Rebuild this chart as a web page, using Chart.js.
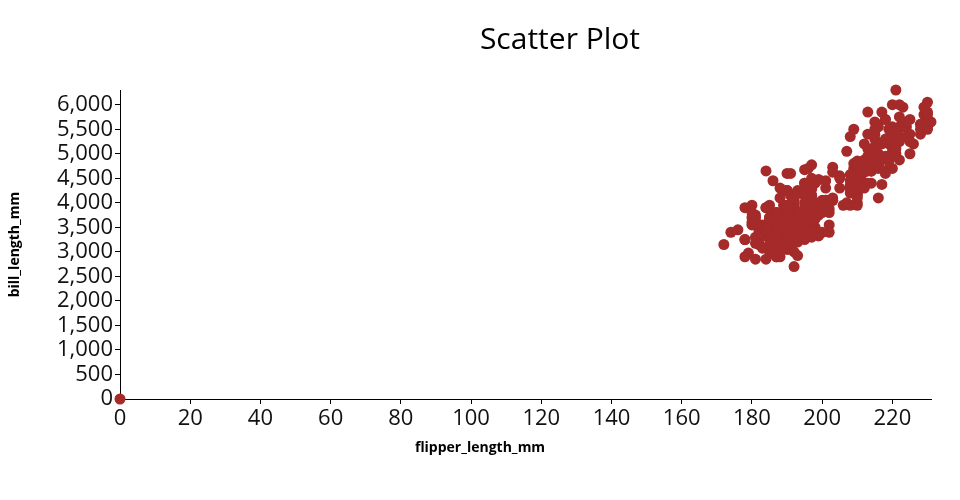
<!DOCTYPE html>
<html>
<head>
<meta charset="utf-8">
<script src="https://cdn.jsdelivr.net/npm/chart.js@4/dist/chart.umd.min.js"></script>
<style>
  html, body { margin: 0; padding: 0; background: #fff; }
  .wrap { position: relative; width: 960px; height: 500px; }
  .title {
    position: absolute; left: 0; top: 17px; width: 1120px; text-align: center;
    font: 30px 'Open Sans', sans-serif; color: #000;
  }
  .xtitle {
    position: absolute; left: 0; top: 437px; width: 960px; text-align: center;
    font: bold 14px 'Open Sans', sans-serif; color: #000;
  }
</style>
</head>
<body>
<div class="wrap">
  <div class="title">Scatter Plot</div>
  <canvas id="scatter" width="960" height="500"></canvas>
  <div class="xtitle">flipper_length_mm</div>
</div>
<script>
// [flipper_length_mm, body mass] pairs
const adelie = [
  [181,3750],[186,3800],[195,3250],[193,3450],[190,3650],[181,3625],[195,4675],[193,3475],[190,4250],[186,3300],
  [180,3700],[182,3200],[191,3800],[198,4400],[185,3700],[195,3450],[197,4500],[184,3325],[194,4200],[174,3400],
  [180,3600],[189,3800],[185,3950],[180,3800],[187,3800],[183,3550],[187,3200],[172,3150],[180,3950],[178,3250],
  [178,3900],[188,3300],[184,3900],[195,3325],[196,4150],[190,3950],[180,3550],[181,3300],[184,4650],[182,3150],
  [195,3900],[186,3100],[196,4400],[185,3000],[190,4600],[182,3425],[179,2975],[190,3450],[191,4150],[186,3500],
  [188,4300],[190,3450],[200,4050],[187,2900],[191,3700],[186,3550],[193,3800],[181,2850],[194,3750],[185,3150],
  [195,4400],[185,3600],[192,4050],[184,2850],[192,3950],[195,3350],[188,4100],[190,3050],[198,4450],[190,3600],
  [190,3900],[196,3550],[197,4150],[190,3700],[195,4250],[191,3700],[184,3900],[187,3550],[195,4000],[189,3200],
  [196,4700],[187,3800],[193,4200],[191,3350],[194,3550],[190,3800],[189,3500],[189,3950],[190,3600],[202,3550],
  [205,4300],[185,3400],[186,4450],[187,3300],[208,4300],[190,3700],[196,4350],[178,2900],[192,4100],[192,3725],
  [203,4725],[183,3075],[190,4250],[193,2925],[184,3550],[199,3750],[190,3900],[181,3175],[197,4775],[198,3825],
  [191,4600],[193,3200],[197,4275],[191,3900],[196,4075],[188,2900],[199,3775],[189,3350],[189,3325],[187,3150],
  [198,3500],[176,3450],[202,3875],[186,3050],[199,4000],[191,3275],[195,4300],[191,3050],[210,4000],[190,3325],
  [197,3500],[193,3500],[199,4475],[187,3425],[190,3900],[191,3175],[200,3975],[185,3400],[193,4250],[193,3400],
  [187,3475],[188,3050],[190,3725],[192,3000],[185,3650],[190,4250],[184,3475],[195,3450],[193,3750],[187,3700],
  [201,4000]
]
const gentoo = [
  [211,4500],[230,5700],[210,4450],[218,5700],[215,5400],[210,4550],[211,4800],[219,5200],[209,4400],[215,5150],
  [214,4650],[216,5550],[214,4650],[213,5850],[210,4200],[217,5850],[210,4150],[221,6300],[209,4800],[222,5350],
  [218,5700],[215,5000],[213,4400],[215,5050],[215,5000],[215,5100],[216,4100],[215,5650],[210,4600],[220,5550],
  [222,5250],[209,4700],[207,5050],[230,6050],[220,5150],[220,5400],[213,4950],[219,5250],[208,4350],[208,5350],
  [208,3950],[225,5700],[210,4300],[216,4750],[222,5550],[217,4900],[210,4200],[225,5400],[213,5100],[215,5300],
  [210,4850],[220,5300],[210,4400],[225,5000],[217,4900],[220,5050],[208,4300],[220,5000],[208,4450],[224,5550],
  [208,4200],[221,5300],[214,4400],[231,5650],[219,4700],[230,5700],[214,4650],[229,5800],[220,4700],[223,5550],
  [216,4750],[221,5000],[221,5100],[217,5200],[216,4700],[230,5800],[209,4600],[220,6000],[215,4750],[223,5950],
  [212,4625],[221,5450],[212,4725],[224,5350],[212,4750],[228,5600],[218,4600],[218,5300],[212,4875],[230,5550],
  [218,4950],[228,5400],[212,4750],[224,5650],[214,4850],[226,5200],[216,4925],[222,4875],[203,4625],[225,5250],
  [219,4850],[228,5600],[215,4975],[228,5500],[216,4725],[215,5500],[210,4700],[219,5500],[208,4575],[209,5500],
  [216,5000],[229,5950],[213,4650],[230,5500],[217,4375],[230,5850],[217,4875],[222,6000],[214,4925],[215,4850],
  [222,5750],[212,5200],[213,5400]
]
const chinstrap = [
  [192,3500],[196,3900],[193,3650],[188,3525],[197,3725],[198,3950],[178,3250],[197,3750],[195,4150],[198,3700],
  [193,3800],[194,3775],[185,3700],[201,4050],[190,3575],[201,4050],[197,3300],[181,3700],[190,3450],[195,4400],
  [181,3600],[191,3400],[187,2900],[193,3800],[195,3300],[197,4150],[200,3400],[200,3800],[191,3700],[205,4550],
  [187,3200],[201,4300],[187,3350],[203,4100],[195,3600],[199,3900],[195,3850],[210,4800],[192,2700],[205,4500],
  [210,3950],[187,3650],[196,3550],[196,3500],[196,3675],[201,4450],[190,3400],[212,4300],[187,3250],[198,3675],
  [199,3325],[201,3950],[193,3600],[203,4050],[187,3350],[197,3450],[191,3250],[203,4050],[202,3800],[194,3525],
  [206,3950],[189,3650],[195,3650],[207,4000],[202,3400],[193,3775],[210,4100],[198,3775]
]
const missing = [[0, 0]]

const xTicks = [0, 20, 40, 60, 80, 100, 120, 140, 160, 180, 200, 220]
const yTicks = [0, 500, 1000, 1500, 2000, 2500, 3000, 3500, 4000, 4500, 5000, 5500, 6000]

const allPoints = [...missing, ...adelie, ...gentoo, ...chinstrap].map(p => ({ x: p[0], y: p[1] }))

const tickFont = { family: "'Open Sans', sans-serif", size: 22 }
const titleFont = { family: "'Open Sans', sans-serif", size: 14, weight: 'bold' }

const config = {
  type: 'scatter',
  data: {
    datasets: [{
      data: allPoints,
      backgroundColor: '#a52a2a',
      borderColor: '#a52a2a',
      borderWidth: 0,
      pointRadius: 5.5,
      pointHoverRadius: 5.5
    }]
  },
  options: {
    responsive: false,
    animation: false,
    clip: false,
    layout: { padding: { top: 90, right: 29, bottom: 31, left: 0 } },
    scales: {
      x: {
        type: 'linear',
        min: 0,
        max: 231,
        grid: { drawOnChartArea: false, color: '#000', tickLength: 5 },
        border: { color: '#000', width: 1 },
        ticks: { autoSkip: false, font: tickFont, color: '#111', padding: 2, maxRotation: 0 },
        afterBuildTicks: scale => { scale.ticks = xTicks.map(v => ({ value: v })) },
        afterFit: scale => { scale.height = 70 }
      },
      y: {
        type: 'linear',
        min: 0,
        max: 6300,
        grid: { drawOnChartArea: false, color: '#000', tickLength: 5 },
        border: { color: '#000', width: 1 },
        ticks: {
          autoSkip: false, font: tickFont, color: '#111', padding: 2,
          callback: v => v.toLocaleString('en-US')
        },
        afterBuildTicks: scale => { scale.ticks = yTicks.map(v => ({ value: v })) },
        title: { display: true, text: 'bill_length_mm', font: titleFont, color: '#000', padding: { top: 7, bottom: 0 } },
        afterFit: scale => { scale.width = 120 }
      }
    },
    plugins: {
      legend: { display: false },
      tooltip: { enabled: false }
    }
  }
}

new Chart(document.querySelector('#scatter'), config)
</script>
</body>
</html>
